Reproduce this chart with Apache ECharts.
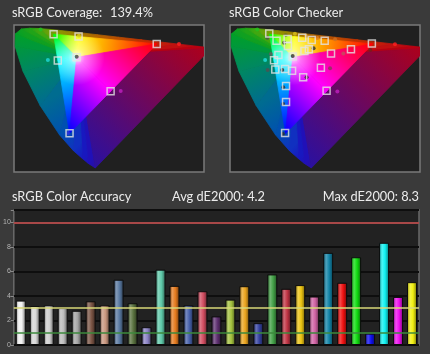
<!DOCTYPE html>
<html>
<head>
<meta charset="utf-8">
<script src="https://cdn.jsdelivr.net/npm/echarts@6/dist/echarts.min.js"></script>
<style>
  html, body { margin: 0; padding: 0; background: #3a3a3a; }
  #main { width: 430px; height: 354px; }
</style>
</head>
<body>
<div id="main"></div>
<script>
// spectral locus in CIE 1976 u'v' (380, 440 ... 640, 700 nm)
var locusU = [0.2568, 0.2347, 0.2161, 0.1877, 0.1441, 0.0828, 0.0282, 0.0035, 0.0046, 0.0231, 0.0501,
              0.0792, 0.1127, 0.1531, 0.2026, 0.2623, 0.3315, 0.4035, 0.5203, 0.5830, 0.6234];
var locusV = [0.0166, 0.0350, 0.0549, 0.0871, 0.1510, 0.2708, 0.4117, 0.5131, 0.5638, 0.5837, 0.5868,
              0.5856, 0.5821, 0.5766, 0.5694, 0.5604, 0.5501, 0.5393, 0.5219, 0.5125, 0.5065];
var locusColors = ['#2a10a0', '#2010b8', '#1818c0', '#1030c0', '#0050b0', '#006c90', '#008860', '#00983a',
                   '#00a028', '#10a020', '#20a418', '#40a810', '#70a008', '#909000', '#a07c00', '#b06400',
                   '#b84c00', '#c03000', '#c01010', '#b80010', '#b00018'];

// sRGB targets, ring order R Y G C B M
var targetU = [0.4507, 0.2039, 0.1250, 0.1383, 0.1754, 0.3051];
var targetV = [0.5229, 0.5529, 0.5625, 0.4555, 0.1579, 0.3297];
var targetColors = ['#ff0000', '#ffff00', '#00ff00', '#00ffff', '#0000ff', '#ff00ff'];
var whiteU = 0.1978, whiteV = 0.4683;

// measured points, coverage panel
var measU = [0.521, 0.205, 0.084, 0.107, 0.171, 0.337, 0.198];
var measV = [0.522, 0.556, 0.582, 0.457, 0.159, 0.331, 0.470];
var measColors = ['#ff2020', '#d8d020', '#20c020', '#20d8d8', '#3030e0', '#c020c0', '#404040'];

// color checker targets
var checkU = [0.124, 0.147, 0.182, 0.183, 0.228, 0.258, 0.299, 0.448, 0.382, 0.319, 0.235, 0.249,
              0.153, 0.198, 0.139, 0.143, 0.174, 0.196, 0.231, 0.287, 0.305, 0.177, 0.177, 0.174];
var checkV = [0.565, 0.536, 0.543, 0.514, 0.548, 0.539, 0.536, 0.524, 0.501, 0.484, 0.494, 0.501,
              0.478, 0.471, 0.456, 0.418, 0.420, 0.413, 0.387, 0.426, 0.332, 0.351, 0.286, 0.159];
// color checker measured
var checkMeasU = [0.086, 0.118, 0.171, 0.176, 0.205, 0.239, 0.276, 0.332, 0.443, 0.521, 0.358, 0.316,
                  0.242, 0.264, 0.198, 0.111, 0.129, 0.119, 0.165, 0.168, 0.168, 0.339, 0.167];
var checkMeasV = [0.582, 0.548, 0.528, 0.559, 0.564, 0.556, 0.547, 0.542, 0.498, 0.521, 0.484, 0.423,
                  0.387, 0.505, 0.473, 0.457, 0.482, 0.416, 0.416, 0.346, 0.278, 0.329, 0.155];
var checkMeasColors = ['#20c020', '#505050', '#303030', '#707020', '#d8c020', '#e0a020', '#e08020', '#d07020',
                       '#702020', '#ff2020', '#c05060', '#804050', '#303030', '#303030', '#303030', '#20e0e0',
                       '#606060', '#505050', '#303030', '#303030', '#303030', '#c020c0', '#303030'];

// dE2000 per patch
var patchNames = ['1', '2', '3', '4', '5', '6', '7', '8', '9', '10', '11', '12', '13', '14', '15',
                  '16', '17', '18', '19', '20', '21', '22', '23', '24', '25', '26', '27', '28', '29'];
var patchValues = [3.62, 3.18, 3.23, 3.01, 2.79, 3.56, 3.23, 5.32, 3.40, 1.45, 6.14, 4.82, 3.23, 4.38, 2.33,
                   3.70, 4.79, 1.78, 5.75, 4.58, 4.88, 3.95, 7.51, 5.07, 7.15, 0.93, 8.33, 3.92, 5.12];
var patchColors = ['#f2f2f2', '#d8d8d8', '#d0d0d0', '#bcbcbc', '#a4a4a4', '#7a5444', '#c8967e', '#5878a0',
                   '#58703e', '#8a82c4', '#5ec8a8', '#e47a1e', '#4660aa', '#d04c60', '#5e3070', '#a4c23e',
                   '#eaa41e', '#3442a0', '#42a046', '#c03444', '#ecc412', '#d062a4', '#1284a8', '#f01010',
                   '#10dc10', '#1010f0', '#10f2f2', '#f010f0', '#f2f010'];
var limitLines = [10, 3, 1];

function mix(hex, to, t) {
  var a = parseInt(hex.slice(1), 16), b = parseInt(to.slice(1), 16);
  var r = Math.round(((a >> 16) & 255) * (1 - t) + ((b >> 16) & 255) * t);
  var g = Math.round(((a >> 8) & 255) * (1 - t) + ((b >> 8) & 255) * t);
  var bl = Math.round((a & 255) * (1 - t) + (b & 255) * t);
  return 'rgb(' + r + ',' + g + ',' + bl + ')';
}

function gloss(c) {
  return new echarts.graphic.LinearGradient(0, 0, 1, 0, [
    { offset: 0, color: mix(c, '#000000', 0.4) },
    { offset: 0.3, color: mix(c, '#ffffff', 0.25) },
    { offset: 0.6, color: c },
    { offset: 1, color: mix(c, '#000000', 0.5) }
  ]);
}

// fan triangles from white point to each boundary segment
function fanRender(colors) {
  return function (params, api) {
    var i = params.dataIndex;
    var w = api.coord([whiteU, whiteV]);
    var a = api.coord([api.value(0), api.value(1)]);
    var b = api.coord([api.value(2), api.value(3)]);
    var grad = new echarts.graphic.LinearGradient(a[0], a[1], b[0], b[1], [
      { offset: 0, color: colors[i] },
      { offset: 1, color: colors[(i + 1) % colors.length] }
    ], true);
    return {
      type: 'polygon',
      shape: { points: [w, a, b] },
      style: { fill: grad, stroke: grad, lineWidth: 0.8 }
    };
  };
}

function glowRender(params, api) {
  var w = api.coord([api.value(0), api.value(1)]);
  var pts = targetU.map(function (u, k) { return api.coord([u, targetV[k]]); });
  return {
    type: 'polygon',
    shape: { points: pts },
    style: {
      fill: new echarts.graphic.RadialGradient(w[0], w[1], 28, [
        { offset: 0, color: 'rgba(255,255,255,0.9)' },
        { offset: 0.3, color: 'rgba(255,255,255,0.45)' },
        { offset: 1, color: 'rgba(255,255,255,0)' }
      ], true)
    }
  };
}

function ring(us, vs) {
  return us.map(function (u, k) {
    var n = (k + 1) % us.length;
    return [u, vs[k], us[n], vs[n]];
  });
}

function gamutSeries(idx) {
  return [
    { type: 'custom', xAxisIndex: idx, yAxisIndex: idx, clip: true, silent: true,
      renderItem: fanRender(locusColors), data: ring(locusU, locusV) },
    { type: 'custom', xAxisIndex: idx, yAxisIndex: idx, clip: true, silent: true,
      renderItem: fanRender(targetColors), data: ring(targetU, targetV) },
    { type: 'custom', xAxisIndex: idx, yAxisIndex: idx, clip: true, silent: true,
      renderItem: glowRender, data: [[whiteU, whiteV]] }
  ];
}

function dots(idx, us, vs, colors) {
  return {
    type: 'scatter', xAxisIndex: idx, yAxisIndex: idx, symbol: 'circle', symbolSize: 4, silent: true,
    data: us.map(function (u, k) { return { value: [u, vs[k]], itemStyle: { color: colors[k] } }; })
  };
}

function squares(idx, us, vs) {
  return {
    type: 'scatter', xAxisIndex: idx, yAxisIndex: idx, symbol: 'rect', symbolSize: 7, silent: true,
    itemStyle: { color: 'rgba(0,0,0,0)', borderColor: '#e4e4e4', borderWidth: 1.5 },
    data: us.map(function (u, k) { return [u, vs[k]]; })
  };
}

var chart = echarts.init(document.getElementById('main'));
var txt = { color: '#ececec', fontFamily: 'Lato', fontSize: 12.8, fontWeight: 'normal' };
var panelAxis = { type: 'value', min: 0, max: 0.6, show: false };

var series = [].concat(
  gamutSeries(0),
  [dots(0, measU, measV, measColors), squares(0, targetU.concat([whiteU]), targetV.concat([whiteV]))],
  gamutSeries(1),
  [dots(1, checkMeasU, checkMeasV, checkMeasColors), squares(1, checkU, checkV)]
);

series.push({
  type: 'bar', xAxisIndex: 2, yAxisIndex: 2, barWidth: 10,
  itemStyle: { borderColor: '#0c0c0c', borderWidth: 1 },
  data: patchValues.map(function (v, k) {
    return { value: v, itemStyle: { color: gloss(patchColors[k]) } };
  }),
  markLine: {
    silent: true, symbol: 'none', label: { show: false },
    data: [
      { yAxis: limitLines[0], lineStyle: { color: '#a84848', width: 2, type: 'solid' } },
      { yAxis: limitLines[1], lineStyle: { color: '#d8d878', width: 1.5, type: 'solid' } },
      { yAxis: limitLines[2], lineStyle: { color: '#3c8a3c', width: 1.5, type: 'solid' } }
    ]
  }
});

chart.setOption({
  backgroundColor: '#3a3a3a',
  animation: false,
  title: [
    { text: 'sRGB Coverage:', left: 12, top: 6, padding: 0, textStyle: txt },
    { text: '139.4%', left: 110, top: 6, padding: 0, textStyle: txt },
    { text: 'sRGB Color Checker', left: 229, top: 6, padding: 0, textStyle: txt },
    { text: 'sRGB Color Accuracy', left: 12, top: 190, padding: 0, textStyle: txt },
    { text: 'Avg dE2000: 4.2', left: 172, top: 190, padding: 0, textStyle: txt },
    { text: 'Max dE2000: 8.3', right: 11, top: 190, padding: 0, textStyle: txt }
  ],
  grid: [
    { left: 14, top: 25, width: 190, height: 147, show: true, backgroundColor: '#202020', borderColor: '#7a7a7a', borderWidth: 1.5 },
    { left: 230, top: 25, width: 190, height: 147, show: true, backgroundColor: '#202020', borderColor: '#7a7a7a', borderWidth: 1.5 },
    { left: 12, top: 210, width: 407, height: 135, show: true, backgroundColor: '#222222', borderColor: '#6a6a6a', borderWidth: 1.5 }
  ],
  xAxis: [
    Object.assign({ gridIndex: 0 }, panelAxis),
    Object.assign({ gridIndex: 1 }, panelAxis),
    { gridIndex: 2, type: 'category', data: patchNames, axisLine: { show: false }, axisTick: { show: false }, axisLabel: { show: false } }
  ],
  yAxis: [
    Object.assign({ gridIndex: 0 }, panelAxis),
    Object.assign({ gridIndex: 1 }, panelAxis),
    { gridIndex: 2, type: 'value', min: 0, max: 11, interval: 2,
      axisLine: { show: false },
      axisTick: { show: true, length: 3, lineStyle: { color: '#8a8a8a' } },
      axisLabel: { color: '#b4b4b4', fontSize: 7, margin: 3, fontFamily: 'Liberation Sans',
        formatter: function (v) { return v % 2 === 0 ? v : ''; } },
      splitLine: { lineStyle: { color: '#0e0e0e', width: 2 } } }
  ],
  series: series
});
</script>
</body>
</html>
